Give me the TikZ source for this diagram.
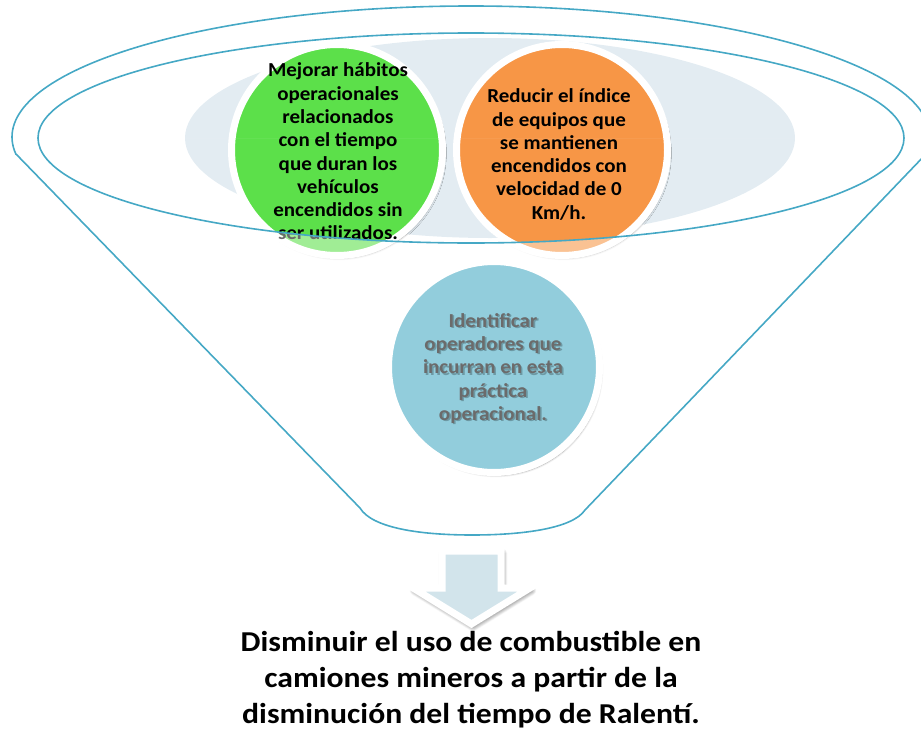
\documentclass[tikz,border=0pt]{standalone}
\usepackage{fontspec}
\setmainfont{Carlito}
\newfontfamily\ballfont[FakeStretch=1.06]{Carlito}
\newfontfamily\goalfont[FakeStretch=1.10]{Carlito}
\usetikzlibrary{shadows.blur}

\definecolor{rimblue}{HTML}{45A8C5}
\definecolor{mouthgray}{HTML}{E3ECF2}
\definecolor{ballgreen}{HTML}{5CE04A}
\definecolor{ballorange}{HTML}{F79646}
\definecolor{ballblue}{HTML}{92CDDC}
\definecolor{arrowfill}{HTML}{D2E4EB}
\definecolor{softgray}{HTML}{6B6B6B}

\tikzset{
  rim/.style={draw=rimblue, line width=1.6pt},
  ball/.style={circle, draw=white, line width=7pt, minimum size=211pt, inner sep=0pt,
    blur shadow={shadow xshift=2pt, shadow yshift=-3pt, shadow blur steps=8, shadow opacity=35}},
  balltext/.style={align=center, inner sep=0pt, font=\ballfont\fontsize{19.8}{23.3}\selectfont\bfseries},
  goaltext/.style={align=center, inner sep=0pt, font=\goalfont\fontsize{28.8}{36}\selectfont\bfseries},
  downarrow/.style={fill=arrowfill, draw=white, line width=7pt, line join=miter,
    blur shadow={shadow xshift=1.5pt, shadow yshift=-2.5pt, shadow blur radius=5pt,
      shadow blur steps=12, shadow opacity=75}},
}

\begin{document}
\begin{tikzpicture}[x=1pt, y=-1pt]
\useasboundingbox (0,0) rectangle (921,731);
\clip (0,0) rectangle (921,731);

% shaded disc in the mouth of the funnel
\fill[mouthgray] (490,138) ellipse [x radius=305, y radius=100];

% the two upper balls
\node[ball, fill=ballgreen] (g) at (337,150) {};
\node[balltext] (gt) at (338,151.5) {Mejorar hábitos\\operacionales\\relacionados\\con el tiempo\\que duran los\\vehículos\\encendidos sin\\ser utilizados.};

\node[ball, fill=ballorange] (o) at (562,150) {};
\node[balltext] (ot) at (559,154.5) {Reducir el índice\\de equipos que\\se mantienen\\encendidos con\\velocidad de 0\\Km/h.};

% translucent front wall of the funnel below the rim
\begin{scope}
  \clip (0,138) rectangle (921,268);
  \fill[white, fill opacity=0.42, even odd rule]
    (0,138) rectangle (921,268)
    (471,138) ellipse [x radius=433, y radius=105];
\end{scope}

% lower ball with shadowed grey text
\node[ball, fill=ballblue] (b) at (494,367) {};
\node[balltext, text=black, text opacity=0.25] (bts) at (494.6,369.8) {Identificar\\operadores que\\incurran en esta\\práctica\\operacional.};
\node[balltext, text=softgray] (bt) at (493,368.5) {Identificar\\operadores que\\incurran en esta\\práctica\\operacional.};

% funnel outline
\coordinate (lc) at (16,154);
\coordinate (lb) at (360,508);
\coordinate (bm) at (472,535);
\coordinate (rb) at (585,510);
\coordinate (rc) at (926,154);
\begin{scope}
  \clip (0,0) rectangle (921,154);
  \draw[rim] (471,137) ellipse [x radius=459, y radius=131];
\end{scope}
\draw[rim, line join=round] (lc) -- (lb)
  .. controls (372,528) and (420,535) .. (bm)
  .. controls (525,535) and (573,528) .. (rb) -- (rc);
\draw[rim] (471,138) ellipse [x radius=433, y radius=105];

% arrow towards the result
\path[downarrow] (442,551) -- (501,551) -- (501,588) -- (530,588)
  -- (471.5,624) -- (413,588) -- (442,588) -- cycle;

% result
\node[goaltext] (goal) at (471,680) {Disminuir el uso de combustible en\\camiones mineros a partir de la\\disminución del tiempo de Ralentí.};
\end{tikzpicture}
\end{document}
